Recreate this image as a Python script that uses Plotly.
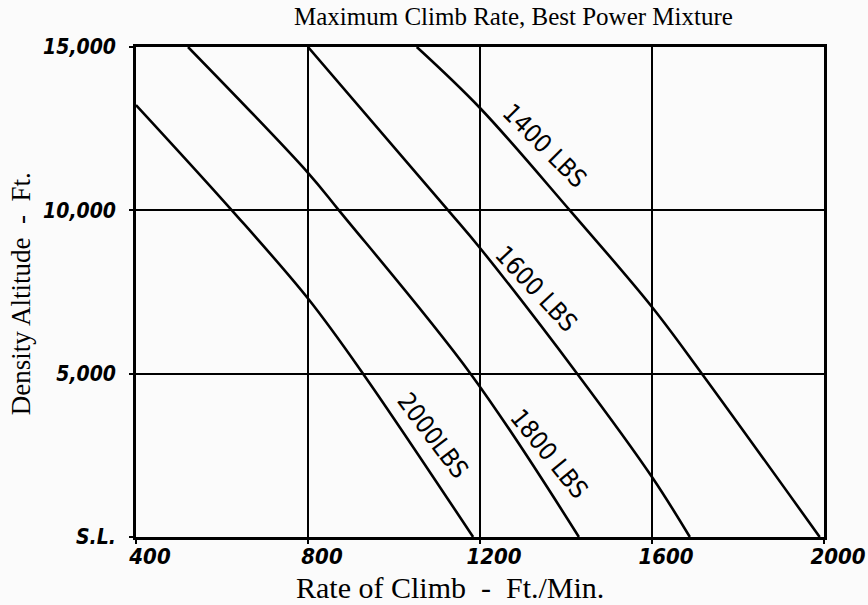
import plotly.graph_objects as go

# ---- data ----
rate_1400 = [1053, 1200, 1409, 1600, 1716, 1990]
alt_1400 = [15000, 13133, 10000, 7041, 5000, 0]

rate_1600 = [800, 1126, 1200, 1426, 1600, 1688]
alt_1600 = [15000, 10000, 8847, 5000, 1837, 0]

rate_1800 = [521, 800, 872, 1178, 1430]
alt_1800 = [15000, 11150, 10000, 5000, 0]

rate_2000 = [400, 623, 800, 928, 1184]
alt_2000 = [13224, 10000, 7300, 5000, 0]

weights = ["1400 LBS", "1600 LBS", "1800 LBS", "2000LBS"]

x_ticks = [400, 800, 1200, 1600, 2000]
x_ticktext = ["400", "800", "1200", "1600", "2000"]
y_ticks = [0, 5000, 10000, 15000]
y_ticktext = ["S.L.", "5,000", "10,000", "15,000"]

title = "Maximum Climb Rate, Best Power Mixture"
x_title = "Rate of Climb\u00a0\u00a0-\u00a0\u00a0Ft./Min."
y_title = "Density Altitude\u00a0\u00a0-\u00a0\u00a0Ft."

# ---- figure ----
fig = go.Figure()
series = [(rate_1400, alt_1400), (rate_1600, alt_1600),
          (rate_1800, alt_1800), (rate_2000, alt_2000)]
for (xs, ys), name in zip(series, weights):
    fig.add_trace(go.Scatter(
        x=xs, y=ys, mode="lines", name=name,
        line=dict(color="black", width=2.6, shape="spline", smoothing=1.0),
        hoverinfo="x+y+name", showlegend=False))

hand = "DejaVu Sans Condensed, DejaVu Sans, sans-serif"
serif = "Liberation Serif, Times New Roman, serif"

# curve labels (rotated along the lines)
label_pos = [(1350, 12000, 45), (1330, 7600, 47), (1360, 2550, 51), (1090, 3100, 53)]
for (lx, ly, ang), txt in zip(label_pos, weights):
    fig.add_annotation(x=lx, y=ly, xref="x", yref="y", text=txt,
                       textangle=ang, showarrow=False,
                       font=dict(family=hand, size=25, color="black"))

fig.add_annotation(x=0.548, y=1.063, xref="paper", yref="paper", text=title,
                   showarrow=False, xanchor="center", yanchor="middle",
                   font=dict(family=serif, size=25, color="black"))
fig.add_annotation(x=0.456, y=-0.104, xref="paper", yref="paper", text=x_title,
                   showarrow=False, xanchor="center", yanchor="middle",
                   font=dict(family=serif, size=30, color="black"))
fig.add_annotation(x=-0.166, y=0.497, xref="paper", yref="paper", text=y_title,
                   showarrow=False, xanchor="center", yanchor="middle", textangle=-90,
                   font=dict(family=serif, size=27, color="black"))

fig.update_xaxes(range=[400, 2000], tickvals=x_ticks, ticktext=x_ticktext,
                 automargin=False,
                 showgrid=True, gridcolor="black", gridwidth=2.2,
                 showline=True, linecolor="black", linewidth=2.6, mirror=True,
                 ticks="outside", ticklen=4, tickwidth=2, tickcolor="black",
                 zeroline=False, ticklabelshift=14, ticklabelstandoff=-6,
                 ticklabeloverflow="allow",
                 tickfont=dict(family=hand, size=22, color="black",
                               style="italic", weight="bold"))
fig.update_yaxes(range=[0, 15000], tickvals=y_ticks, ticktext=y_ticktext,
                 automargin=False,
                 showgrid=True, gridcolor="black", gridwidth=2.2,
                 showline=True, linecolor="black", linewidth=2.6, mirror=True,
                 ticks="outside", ticklen=4, tickwidth=2, tickcolor="black",
                 zeroline=False, ticklabelstandoff=9,
                 tickfont=dict(family=hand, size=21, color="black",
                               style="italic", weight="bold"))

fig.update_layout(width=868, height=605,
                  margin=dict(l=136, r=44, t=47, b=68, autoexpand=False),
                  paper_bgcolor="#fbfbfb", plot_bgcolor="#fbfbfb")

# drop the default 8px page margin and scrollbars so the figure fills the window
fig.write_html(
    "out.html",
    config={"displayModeBar": False, "responsive": False},
    post_script=("document.documentElement.style.overflow='hidden';"
                 "document.body.style.overflow='hidden';"
                 "document.body.style.margin='0';"),
)
